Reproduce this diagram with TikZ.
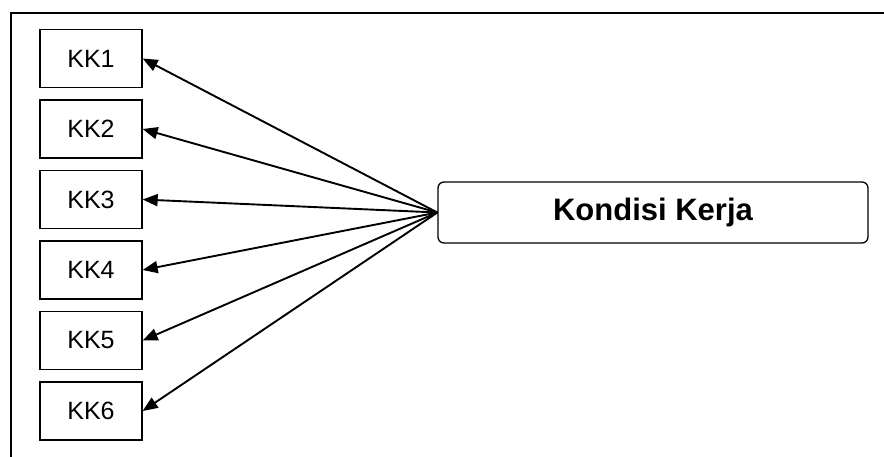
\documentclass[tikz,border=0pt]{standalone}
\usepackage{fontspec}
\setmainfont{Liberation Sans}
\usetikzlibrary{arrows.meta}

\begin{document}
\begin{tikzpicture}[x=1pt, y=-1pt,
    kkbox/.style={draw, line width=1.3pt, minimum width=102pt, minimum height=58pt, inner sep=0pt, font=\fontsize{25}{30}\selectfont},
    mainbox/.style={draw, line width=1.3pt, rounded corners=6pt, minimum width=430pt, minimum height=61pt, inner sep=0pt, font=\fontsize{31}{36}\selectfont\bfseries},
    link/.style={line width=1.9pt, -{Triangle[length=15pt, width=12pt]}}]
    \clip (0, 0) rectangle (884, 456);
    \draw[line width=1.7pt] (11, 13) rectangle (900, 470);
    \node[mainbox] (kondisi) at (653, 212.5) {Kondisi Kerja};
    \foreach \i in {1,...,6} {
      \node[kkbox] (kk\i) at (91, {58.5 + 70.5*(\i-1)}) {KK\i};
      \draw[link] (kondisi.west) -- (kk\i.east);
    }
  \end{tikzpicture}
\end{document}
